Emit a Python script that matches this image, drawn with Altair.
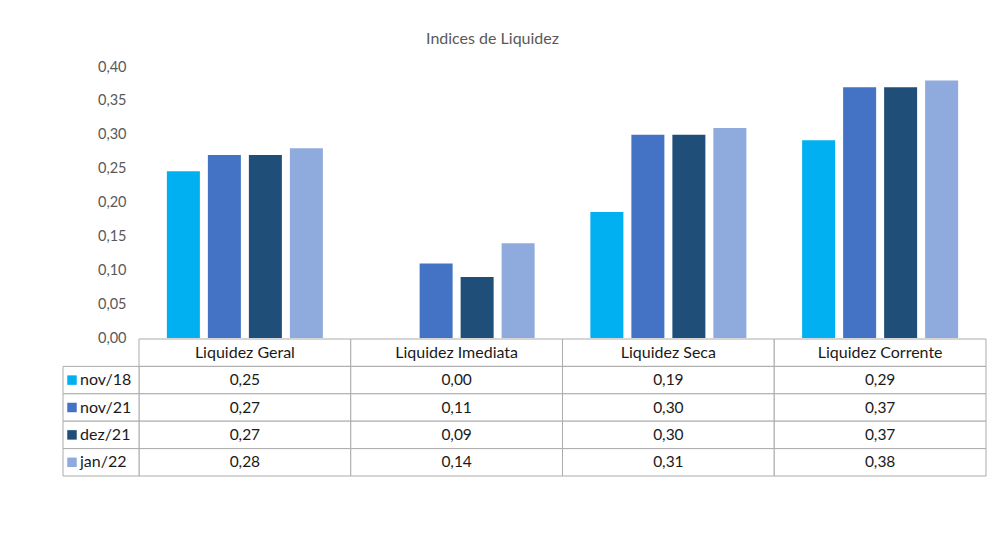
import altair as alt
import pandas as pd

categories = ["Liquidez Geral", "Liquidez Imediata", "Liquidez Seca", "Liquidez Corrente"]
series = ["nov/18", "nov/21", "dez/21", "jan/22"]
colors = ["#00B0F0", "#4472C4", "#1F4E79", "#8FAADC"]

v_nov18 = [0.246, 0.00, 0.186, 0.292]
v_nov21 = [0.27, 0.11, 0.30, 0.37]
v_dez21 = [0.27, 0.09, 0.30, 0.37]
v_jan22 = [0.28, 0.14, 0.31, 0.38]

y_ticks = [0.0, 0.05, 0.10, 0.15, 0.20, 0.25, 0.30, 0.35, 0.40]

FONT = "Lato"
HDR = "hdr"
rows = [HDR] + series

values_by_series = [v_nov18, v_nov21, v_dez21, v_jan22]
bar_records = []
for s, vals in zip(series, values_by_series):
    for c, v in zip(categories, vals):
        bar_records.append({"cat": c, "series": s, "value": v})
bars_df = pd.DataFrame(bar_records)

hdr_df = pd.DataFrame({"cat": categories, "row": [HDR] * len(categories), "label": categories})
val_records = []
for s, vals in zip(series, values_by_series):
    for c, v in zip(categories, vals):
        val_records.append({"cat": c, "row": s, "value": v})
val_df = pd.DataFrame(val_records)
cells_df = pd.concat([hdr_df[["cat", "row"]], val_df[["cat", "row"]]], ignore_index=True)

# legend column: left / right edge of the single column (column index units)
legend_df = pd.DataFrame({"series": series, "row": series,
                          "c0": [0] * len(series), "c1": [1] * len(series)})

W, H = 847, 409
BAR_H = 271
LEG_W = 76

x_cat = alt.X("cat:N", sort=categories,
              scale=alt.Scale(domain=categories, paddingInner=0, paddingOuter=0),
              axis=None)
y_row = alt.Y("row:N", sort=rows,
              scale=alt.Scale(domain=rows, range=[BAR_H + 1, H], paddingInner=0, paddingOuter=0),
              axis=None)
color_enc = alt.Color("series:N", sort=series,
                      scale=alt.Scale(domain=series, range=colors), legend=None)
leg_scale = alt.Scale(domain=[0, 1], range=[-LEG_W, 0], nice=False, zero=False)

bars = alt.Chart(bars_df).mark_bar().encode(
    x=x_cat,
    xOffset=alt.XOffset("series:N", sort=series,
                        scale=alt.Scale(domain=series, paddingInner=0.195, paddingOuter=0.68)),
    y=alt.Y("value:Q",
            scale=alt.Scale(domain=[0, 0.4], range=[BAR_H, 0], nice=False, zero=True),
            axis=alt.Axis(values=y_ticks,
                          labelExpr="replace(format(datum.value, '.2f'), '.', ',')",
                          domain=False, ticks=False, grid=False, title=None,
                          labelFont=FONT, labelFontSize=14.5, labelColor="#595959",
                          labelPadding=13)),
    color=color_enc,
)

cells = alt.Chart(cells_df).mark_rect(
    fill="white", stroke="#ABABAB", strokeWidth=1
).encode(x=x_cat, y=y_row)

hdr_text = alt.Chart(hdr_df).mark_text(
    font=FONT, fontSize=16, color="#1a1a1a", baseline="middle"
).encode(x=x_cat, y=y_row, text="label:N")

val_text = alt.Chart(val_df).transform_calculate(
    txt="replace(format(datum.value, '.2f'), '.', ',')"
).mark_text(font=FONT, fontSize=15.5, color="#1a1a1a", baseline="middle").encode(
    x=x_cat, y=y_row, text="txt:N"
)

leg_cells = alt.Chart(legend_df).mark_rect(
    fill="white", stroke="#ABABAB", strokeWidth=1
).encode(
    x=alt.X("c0:Q", scale=leg_scale, axis=None),
    x2="c1:Q",
    y=y_row,
)

leg_sq = alt.Chart(legend_df).mark_square(size=90, opacity=1, xOffset=9).encode(
    x=alt.X("c0:Q", scale=leg_scale, axis=None), y=y_row, color=color_enc
)

leg_txt = alt.Chart(legend_df).mark_text(
    font=FONT, fontSize=16, color="#1a1a1a", align="left", baseline="middle", dx=17
).encode(x=alt.X("c0:Q", scale=leg_scale, axis=None), y=y_row, text="series:N")

chart = alt.layer(cells, hdr_text, val_text, leg_cells, leg_sq, leg_txt, bars).resolve_scale(
    x="independent", y="independent"
).properties(
    width=W, height=H,
    title=alt.Title("Indices de Liquidez", font=FONT, fontSize=16, fontWeight="normal",
                    color="#595959", anchor="middle", frame="group", dx=-70, offset=12),
    padding={"left": 54, "top": 23, "right": 5, "bottom": 5},
).configure_view(stroke=None)

chart.save("out.html", embed_options={"renderer": "svg", "actions": False})
